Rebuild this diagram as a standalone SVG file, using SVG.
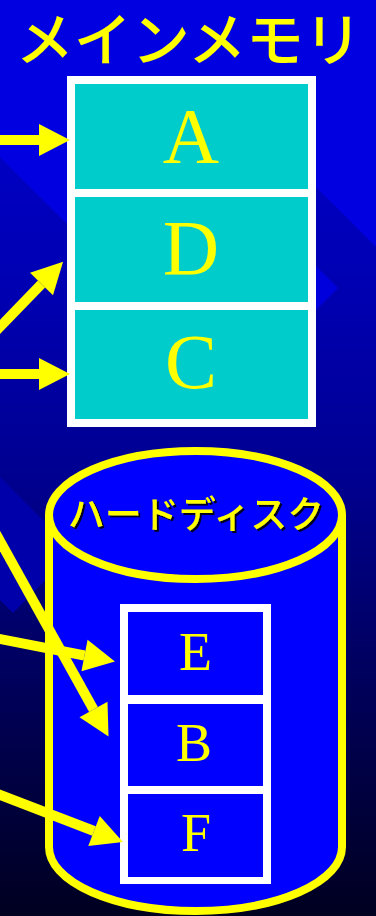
<svg xmlns="http://www.w3.org/2000/svg" width="376" height="916" viewBox="0 0 376 916">
  <defs>
    <linearGradient id="bg" x1="0" y1="0" x2="0" y2="1">
      <stop offset="0" stop-color="#0000D0"/>
      <stop offset="0.16" stop-color="#0000C4"/>
      <stop offset="0.33" stop-color="#0000B0"/>
      <stop offset="0.52" stop-color="#000090"/>
      <stop offset="0.76" stop-color="#000058"/>
      <stop offset="1" stop-color="#000020"/>
    </linearGradient>
    <filter id="shadow" x="-10%" y="-30%" width="120%" height="160%">
      <feDropShadow dx="2" dy="2" stdDeviation="0.4" flood-color="#000022" flood-opacity="1"/>
    </filter>
    <marker id="head" markerUnits="userSpaceOnUse" markerWidth="32" markerHeight="32" refX="0" refY="16" orient="auto" overflow="visible">
      <path d="M0,0 L31,16 L0,32 Z" fill="#FFFF00"/>
    </marker>
    <style>
      .title { font-family: "Noto Sans CJK JP", "Noto Sans", sans-serif; fill: #FFFF00; font-weight: 500; text-anchor: middle; }
      .letter { font-family: "Liberation Serif", "Times New Roman", serif; fill: #FFFF00; text-anchor: middle; }
      .memframe { fill: #FFFFFF; }
      .memcell { fill: #00CCCC; }
      .diskcell { fill: #0000FF; }
      .conn { stroke: #FFFF00; stroke-width: 10; fill: none; marker-end: url(#head); }
      .can { fill: #0000FF; }
      .canline { fill: none; stroke: #FFFF00; stroke-width: 8; }
    </style>
  </defs>

  <!-- background -->
  <rect x="0" y="0" width="376" height="916" fill="url(#bg)"/>
  <polygon points="0,0 376,0 376,247 316,187 67,224 0,157" fill="#0000E0"/>
  <polygon points="316,266 338,288 316,310" fill="#0000DC"/>
  <polygon points="0,477 74,551 13,613 0,600" fill="#0000AA"/>

  <!-- title -->
  <g id="title">
    <text class="title" x="189" y="61" font-size="58">メインメモリ</text>
  </g>

  <!-- main memory -->
  <g id="main-memory">
    <rect class="memframe" x="67" y="76" width="249" height="351"/>
    <g id="mem-A">
      <rect class="memcell" x="75" y="84" width="233" height="105"/>
      <text class="letter" x="191" y="162" font-size="78">A</text>
    </g>
    <g id="mem-D">
      <rect class="memcell" x="75" y="197" width="233" height="105"/>
      <text class="letter" x="191" y="274" font-size="78">D</text>
    </g>
    <g id="mem-C">
      <rect class="memcell" x="75" y="310" width="233" height="109"/>
      <text class="letter" x="191" y="388" font-size="78">C</text>
    </g>
  </g>

  <!-- hard disk -->
  <g id="hard-disk">
    <path class="can" d="M49,515 V847 A146.5,64 0 0 0 342,847 V515 Z"/>
    <path class="canline" d="M49,515 V847 A146.5,64 0 0 0 342,847 V515"/>
    <ellipse class="can" cx="195.5" cy="515" rx="146.5" ry="64"/>
    <ellipse class="canline" cx="195.5" cy="515" rx="146.5" ry="64"/>
    <text class="title" x="196" y="528" font-size="37" filter="url(#shadow)">ハードディスク</text>
    <rect class="memframe" x="120" y="604" width="151" height="280"/>
    <g id="disk-E">
      <rect class="diskcell" x="128" y="612" width="135" height="83"/>
      <text class="letter" x="195.5" y="670" font-size="54">E</text>
    </g>
    <g id="disk-B">
      <rect class="diskcell" x="128" y="704" width="135" height="82"/>
      <text class="letter" x="194" y="761" font-size="54">B</text>
    </g>
    <g id="disk-F">
      <rect class="diskcell" x="128" y="794" width="135" height="83"/>
      <text class="letter" x="196" y="851" font-size="54">F</text>
    </g>
  </g>

  <!-- connectors -->
  <g id="connectors">
    <line class="conn" x1="-5" y1="140" x2="39" y2="140"/>
    <line class="conn" x1="-5" y1="332" x2="41.5" y2="284"/>
    <line class="conn" x1="-5" y1="374" x2="39" y2="374"/>
    <line class="conn" x1="-5" y1="532" x2="93.5" y2="709.5"/>
    <line class="conn" x1="-5" y1="638" x2="84.5" y2="655.5"/>
    <line class="conn" x1="-5" y1="793" x2="94" y2="831"/>
  </g>
</svg>
